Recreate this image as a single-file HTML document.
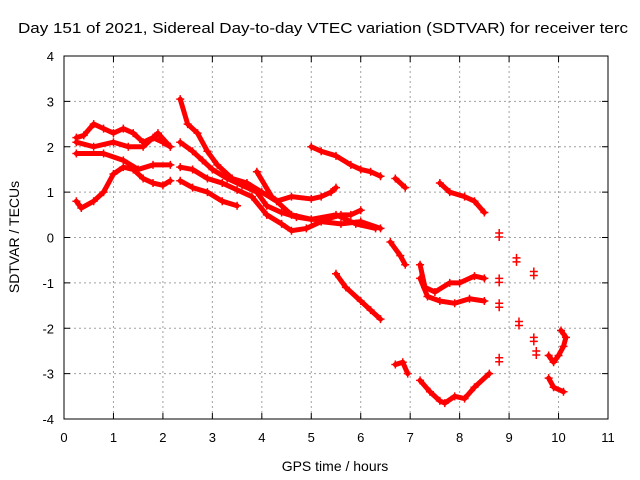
<!DOCTYPE html>
<html><head><meta charset="utf-8"><style>
body{margin:0;background:#fff}
svg{display:block;font-family:"Liberation Sans",sans-serif}
</style></head><body>
<svg id="c" width="640" height="480">
<rect width="640" height="480" fill="#fff"/>
<text x="18" y="33" font-size="15" textLength="610" lengthAdjust="spacingAndGlyphs" fill="#000">Day 151 of 2021, Sidereal Day-to-day VTEC variation (SDTVAR) for receiver terc</text>
<g id="grid"></g><g id="marks"></g><g id="axes"></g>
<text x="335" y="471" font-size="14" text-anchor="middle">GPS time / hours</text>
<text transform="translate(19,237) rotate(-90)" font-size="14" text-anchor="middle">SDTVAR / TECUs</text>
</svg>
<script>
const xTicks=[0,1,2,3,4,5,6,7,8,9,10,11];
const yTicks=[-4,-3,-2,-1,0,1,2,3,4];
const seriesA=[[0.25,0.8],[0.35,0.65],[0.6,0.8],[0.8,1.0],[1.0,1.4],[1.2,1.55],[1.4,1.5],[1.6,1.3],[1.8,1.2],[2.0,1.15],[2.15,1.25]];
const seriesB=[[0.25,2.2],[0.4,2.25],[0.6,2.5],[0.8,2.4],[1.0,2.3],[1.2,2.4],[1.4,2.3],[1.6,2.1],[1.8,2.2],[2.0,2.1],[2.15,2.0]];
const seriesC=[[0.25,1.85],[0.8,1.85],[1.2,1.7],[1.5,1.5],[1.8,1.6],[2.15,1.6]];
const seriesD=[[0.25,2.1],[0.6,2.0],[1.0,2.1],[1.3,2.0],[1.6,2.0],[1.9,2.3],[2.15,2.0]];
const seriesE=[[2.35,3.05],[2.5,2.5],[2.7,2.3],[2.9,1.9],[3.1,1.6],[3.4,1.3],[3.7,1.2],[4.0,1.0],[4.3,0.8],[4.6,0.9],[5.0,0.85],[5.2,0.9],[5.4,1.0],[5.5,1.1]];
const seriesF=[[2.35,2.1],[2.6,1.9],[2.8,1.7],[3.0,1.5],[3.3,1.3],[3.6,1.15],[3.9,1.0],[4.1,0.7],[4.4,0.55],[4.7,0.45],[5.0,0.4],[5.3,0.4],[5.6,0.5],[5.8,0.5],[6.0,0.6]];
const seriesG=[[2.35,1.55],[2.6,1.5],[2.9,1.3],[3.2,1.2],[3.5,1.05],[3.8,0.9],[4.1,0.5],[4.4,0.3],[4.6,0.15],[4.9,0.2],[5.2,0.35],[5.6,0.3],[6.0,0.35],[6.4,0.2]];
const seriesH=[[2.35,1.25],[2.6,1.1],[2.9,1.0],[3.2,0.8],[3.5,0.7]];
const seriesI=[[3.9,1.45],[4.2,0.9],[4.6,0.5],[5.0,0.4],[5.5,0.5],[5.9,0.3],[6.3,0.2]];
const seriesJ=[[5.0,2.0],[5.2,1.9],[5.5,1.8],[5.8,1.6],[6.0,1.5],[6.2,1.45],[6.4,1.35]];
const seriesK=[[6.7,1.3],[6.9,1.1]];
const seriesL=[[5.5,-0.8],[5.7,-1.1],[6.0,-1.4],[6.2,-1.6],[6.4,-1.8]];
const seriesM=[[6.6,-0.1],[6.8,-0.4],[6.9,-0.6]];
const seriesN=[[6.7,-2.8],[6.85,-2.75],[6.95,-3.0]];
const seriesO=[[7.2,-0.6],[7.3,-1.1],[7.5,-1.2],[7.8,-1.0],[8.0,-1.0],[8.3,-0.85],[8.5,-0.9]];
const seriesP=[[7.2,-0.9],[7.35,-1.3],[7.6,-1.4],[7.9,-1.45],[8.2,-1.35],[8.5,-1.4]];
const seriesQ=[[7.2,-3.15],[7.4,-3.4],[7.6,-3.6],[7.7,-3.65],[7.9,-3.5],[8.1,-3.55],[8.3,-3.3],[8.6,-3.0]];
const seriesR=[[7.6,1.2],[7.8,1.0],[8.1,0.9],[8.3,0.8],[8.5,0.55]];
const seriesU=[[9.8,-2.6],[9.9,-2.75],[10.0,-2.6],[10.1,-2.4],[10.15,-2.2],[10.05,-2.05]];
const seriesV=[[9.8,-3.1],[9.9,-3.3],[10.1,-3.4]];
const isolated=[[8.8,0.1],[8.8,-0.9],[8.8,-1.45],[8.8,-2.65],[9.15,-0.45],[9.2,-1.85],[9.5,-0.75],[9.5,-2.2],[9.55,-2.5]];
const lines=[seriesA,seriesB,seriesC,seriesD,seriesE,seriesF,seriesG,seriesH,seriesI,seriesJ,seriesK,seriesL,seriesM,seriesN,seriesO,seriesP,seriesQ,seriesR,seriesU,seriesV];
const NS="http://www.w3.org/2000/svg";
const L=64,R=608,T=56,B=419;
const xs=v=>L+(v-0)/11*(R-L);
const ys=v=>B-(v+4)/8*(B-T);
function mk(tag,at,parent){const e=document.createElementNS(NS,tag);for(const k in at)e.setAttribute(k,at[k]);parent.appendChild(e);return e;}
const grid=document.getElementById('grid'),axes=document.getElementById('axes'),marks=document.getElementById('marks');
xTicks.forEach(t=>{
 if(t>0&&t<11){const g=mk('line',{x1:xs(t),x2:xs(t),y1:T,y2:B,stroke:'#a0a0a0','stroke-dasharray':'2,3'},grid);
 
 }
 mk('line',{x1:xs(t),x2:xs(t),y1:B,y2:B-6,stroke:'#000'},axes);
 mk('line',{x1:xs(t),x2:xs(t),y1:T,y2:T+6,stroke:'#000'},axes);
 const tx=mk('text',{x:xs(t),y:B+23,'font-size':13,'text-anchor':'middle'},axes);tx.textContent=t;
 
 
});
yTicks.forEach(t=>{
 if(t>-4&&t<4){const g=mk('line',{x1:L,x2:R,y1:ys(t),y2:ys(t),stroke:'#a0a0a0','stroke-dasharray':'2,3'},grid);
 
 }
 mk('line',{x1:L,x2:L+6,y1:ys(t),y2:ys(t),stroke:'#000'},axes);
 mk('line',{x1:R,x2:R-6,y1:ys(t),y2:ys(t),stroke:'#000'},axes);
 const tx=mk('text',{x:L-10,y:ys(t)+5,'font-size':13,'text-anchor':'end'},axes);tx.textContent=t;
 
 
});
const fr=mk('rect',{x:L,y:T,width:R-L,height:B-T,fill:'none',stroke:'#000'},axes);


function plus(x,y){mk('path',{d:`M${x-4},${y}h8M${x},${y-4}v8`,stroke:'#f00','stroke-width':1.5},marks);}
lines.forEach((s,i)=>{
 const p=mk('polyline',{points:s.map(d=>xs(d[0])+','+ys(d[1])).join(' '),fill:'none',stroke:'#f00','stroke-width':5,'stroke-linejoin':'round','stroke-linecap':'round'},marks);
 
 
 s.forEach(d=>plus(xs(d[0]),ys(d[1])));
});
isolated.forEach(d=>{plus(xs(d[0]),ys(d[1]));plus(xs(d[0]),ys(d[1])+4);});
</script>
</body></html>
